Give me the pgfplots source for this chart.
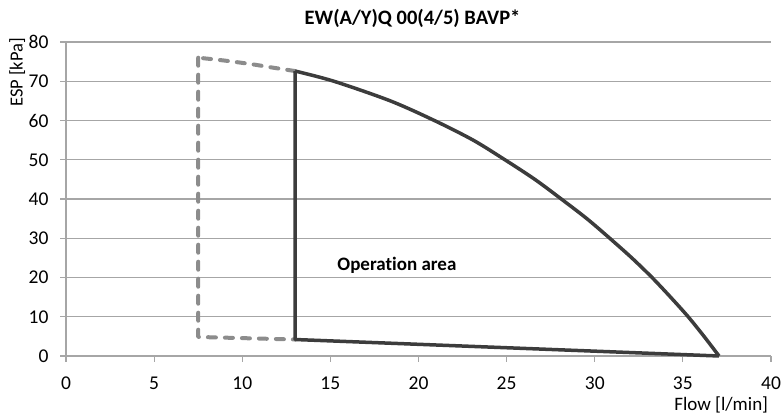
\documentclass[border=0pt]{standalone}
\usepackage{fontspec}
\setmainfont{Carlito}[Ligatures={NoCommon}]
\usepackage{pgfplots}
\pgfplotsset{compat=1.18}
\definecolor{solidc}{HTML}{3C3C3C}
\definecolor{dashc}{HTML}{8C8C8C}
\definecolor{gridc}{HTML}{A6A6A6}
\begin{document}
\begin{tikzpicture}
\useasboundingbox (0,0) rectangle (782bp,420bp);
\begin{axis}[
  at={(66bp,64bp)}, anchor=south west,
  scale only axis, width=705bp, height=314bp,
  xmin=0, xmax=40, ymin=0, ymax=80,
  xtick={0,5,...,40}, ytick={0,10,...,80},
  axis x line=bottom, axis y line=left,
  axis line style={-, draw=gridc, line width=1.2bp},
  ymajorgrids, grid style={draw=gridc, line width=1.2bp},
  tick align=outside, major tick length=6bp,
  tick style={draw=gridc, line width=1.2bp},
  /pgf/number format/assume math mode=true,
  ticklabel style={font=\fontsize{19.5bp}{22bp}\selectfont, text=black},
  xticklabel style={yshift=-11bp},
  yticklabel style={xshift=-8bp},
  clip=false,
]
% dashed extension (lower flow range)
\addplot[dashc, line width=4bp, line cap=round, dash pattern=on 8bp off 9bp, smooth]
  coordinates {(13,72.6) (11.69,73.5) (10.74,74.2) (9.8,74.8) (8.75,75.4) (7.5,76.0)};
\addplot[dashc, line width=4bp, line cap=round, line join=round, dash pattern=on 8bp off 9bp]
  coordinates {(7.5,76.0) (7.5,4.85) (13,4.2)};
% operation area outline
\addplot[solidc, line width=3.5bp, smooth]
  coordinates {(13,72.6) (15.2,70) (18.4,65) (20.9,60) (23.1,55) (24.9,50) (26.6,45) (28.1,40) (29.55,35) (30.85,30) (32.1,25) (33.25,20) (34.3,15) (35.3,10) (36.2,5) (37.05,0)};
\addplot[solidc, line width=3.5bp, line join=round]
  coordinates {(37.05,0) (13,4.2) (13,72.6)};
\node[anchor=west, font=\bfseries\fontsize{19bp}{22bp}\selectfont] at (axis cs:15.2,23.1) {Operation area};
\end{axis}
\node[anchor=base, font=\bfseries\fontsize{20.5bp}{24bp}\selectfont] at (412.5bp,395bp) {EW(A/Y)Q 00(4/5) BAVP*};
\node[anchor=base east, font=\fontsize{19bp}{22bp}\selectfont, inner sep=0pt] at (768.3bp,9.3bp) {Flow [l/min]};
\node[anchor=base east, rotate=90, font=\fontsize{18.5bp}{21bp}\selectfont, inner sep=0pt] at (22.7bp,382.3bp) {ESP [kPa]};
\end{tikzpicture}
\end{document}
